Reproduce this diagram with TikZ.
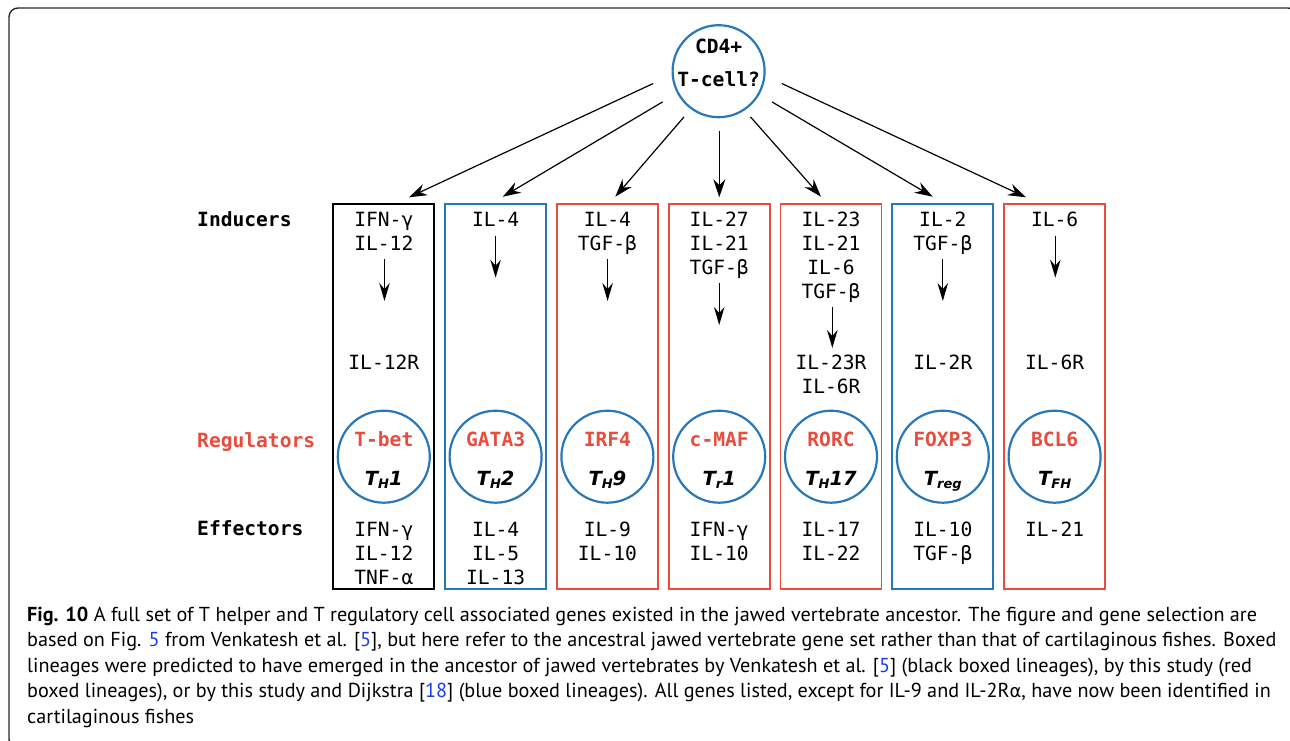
\documentclass[tikz,border=0pt]{standalone}
\usepackage{fontspec}
\setmainfont{PT Sans}
\newfontfamily\monof{DejaVu Sans Mono}
\newfontfamily\subf{DejaVu Sans}
\newfontfamily\capfont{PT Sans}
\usetikzlibrary{arrows.meta,calc}
\definecolor{cred}{RGB}{232,76,61}
\definecolor{cblue}{RGB}{40,120,185}
\definecolor{clink}{RGB}{30,60,230}
\definecolor{framecol}{RGB}{40,40,40}
\newcommand\lnk[1]{\textcolor{clink}{#1}}
\newcommand\tsub[1]{\raisebox{-3pt}{\fontsize{13}{13}\selectfont #1}}
\tikzset{
  linbox/.style={draw, line width=1.8pt, minimum width=101pt, minimum height=385pt, inner sep=0pt},
  circ/.style={circle, draw=cblue, line width=2.2pt, minimum size=92pt, inner sep=0pt},
  txt/.style={font=\monof\fontsize{19.6}{24}\selectfont, align=center, inner sep=0pt, anchor=north},
  lbl/.style={font=\monof\bfseries\fontsize{19.6}{24}\selectfont, inner sep=0pt, anchor=north west},
  regtxt/.style={font=\monof\bfseries\fontsize{19.6}{24}\selectfont, text=cred, inner sep=0pt, anchor=base},
  celltxt/.style={font=\subf\bfseries\itshape\fontsize{19.5}{24}\selectfont, inner sep=0pt, anchor=base},
  captxt/.style={font=\capfont\fontsize{20.2}{25}\selectfont, inner sep=0pt, anchor=base west},
  toparrow/.style={-{Stealth[length=18pt,width=12pt,inset=6pt]}, line width=1.2pt},
  inarrow/.style={-{Stealth[length=18pt,width=10.5pt,inset=6pt]}, line width=1.3pt},
}
\begin{document}
\begin{tikzpicture}[x=1pt,y=-1pt]
\useasboundingbox (0,0) rectangle (1290,740);
\clip (0,0) rectangle (1290,740);
\draw[framecol, line width=1.4pt, rounded corners=9pt] (9,8) rectangle (1297,748);

% top cell
\node[circ] (top) at (718.6,71.2) {};
\node[font=\monof\bfseries\fontsize{19.6}{24}\selectfont, inner sep=0pt, anchor=base] (cd4) at (718.6,53) {CD4+};
\node[font=\monof\bfseries\fontsize{19.6}{24}\selectfont, inner sep=0pt, anchor=base] (tcell) at (718.6,86) {T-cell?};

% row labels
\node[lbl] (lind) at (197,209.2) {\strut Inducers};
\node[lbl, text=cred] (lreg) at (197,430.2) {\strut Regulators};
\node[lbl] (leff) at (197,518.5) {\strut Effectors};

% boxes
\node[linbox, draw=black] (b1) at (383.8,396.5) {};
\node[linbox, draw=cblue] (b2) at (495.6,396.5) {};
\node[linbox, draw=cred]  (b3) at (607.4,396.5) {};
\node[linbox, draw=cred]  (b4) at (719.2,396.5) {};
\node[linbox, draw=cred]  (b5) at (831.0,396.5) {};
\node[linbox, draw=cblue] (b6) at (942.8,396.5) {};
\node[linbox, draw=cred]  (b7) at (1054.6,396.5) {};

% arrows from top cell
\coordinate (e1) at (409,197.3);
\coordinate (e2) at (502.8,196.7);
\coordinate (e3) at (615.3,196.7);
\coordinate (e4) at (719.3,197.3);
\coordinate (e5) at (821,196.7);
\coordinate (e6) at (932.7,196.7);
\coordinate (e7) at (1026,197.3);
\draw[toparrow] ($(top.center)+(-65.4,12.3)$) -- (e1);
\draw[toparrow] ($(top.center)+(-56,30.7)$) -- (e2);
\draw[toparrow] ($(top.center)+(-34.6,45.7)$) -- (e3);
\draw[toparrow] ($(top.center)+(0.7,59.7)$) -- (e4);
\draw[toparrow] ($(top.center)+(31.9,45.7)$) -- (e5);
\draw[toparrow] ($(top.center)+(53.4,30.7)$) -- (e6);
\draw[toparrow] ($(top.center)+(63.2,12.3)$) -- (e7);

% inducers
\node[txt] (i1) at (383.8,209.2) {\strut IFN-γ\\IL-12};
\node[txt] (i2) at (495.6,209.2) {\strut IL-4};
\node[txt] (i3) at (607.4,209.2) {\strut IL-4\\TGF-β};
\node[txt] (i4) at (719.2,209.2) {\strut IL-27\\IL-21\\TGF-β};
\node[txt] (i5) at (831.0,209.2) {\strut IL-23\\IL-21\\IL-6\\TGF-β};
\node[txt] (i6) at (942.8,209.2) {\strut IL-2\\TGF-β};
\node[txt] (i7) at (1054.6,209.2) {\strut IL-6};

% inner arrows
\coordinate (s1) at (384.5,259);   \coordinate (h1) at (384.5,301);
\coordinate (s2) at (495.6,235.7); \coordinate (h2) at (495.6,277.7);
\coordinate (s3) at (607.6,259);   \coordinate (h3) at (607.6,301);
\coordinate (s4) at (719.2,283);   \coordinate (h4) at (719.2,325);
\coordinate (s5) at (832.3,306.7); \coordinate (h5) at (832.3,348);
\coordinate (s6) at (942.8,259);   \coordinate (h6) at (942.8,301);
\coordinate (s7) at (1055.3,235.7); \coordinate (h7) at (1055.3,277.7);
\foreach \k in {1,...,7} { \draw[inarrow] (s\k) -- (h\k); }

% receptors
\node[txt] (r1) at (383.8,352.2) {\strut IL-12R};
\node[txt] (r5) at (831.0,352.2) {\strut IL-23R\\IL-6R};
\node[txt] (r6) at (942.8,352.2) {\strut IL-2R};
\node[txt] (r7) at (1054.6,352.2) {\strut IL-6R};

% regulators
\node[circ] (c1) at (383.8,456.7) {};
\node[circ] (c2) at (495.6,456.7) {};
\node[circ] (c3) at (607.4,456.7) {};
\node[circ] (c4) at (719.2,456.7) {};
\node[circ] (c5) at (831.0,456.7) {};
\node[circ] (c6) at (942.8,456.7) {};
\node[circ] (c7) at (1054.6,456.7) {};
\node[regtxt] (g1) at (383.8,446) {T-bet};
\node[regtxt] (g2) at (495.6,446) {GATA3};
\node[regtxt] (g3) at (607.4,446) {IRF4};
\node[regtxt] (g4) at (719.2,446) {c-MAF};
\node[regtxt] (g5) at (831.0,446) {RORC};
\node[regtxt] (g6) at (942.8,446) {FOXP3};
\node[regtxt] (g7) at (1054.6,446) {BCL6};
\node[celltxt] (t1) at (383.8,485) {T\tsub{H}1};
\node[celltxt] (t2) at (495.6,485) {T\tsub{H}2};
\node[celltxt] (t3) at (607.4,485) {T\tsub{H}9};
\node[celltxt] (t4) at (719.2,485) {T\tsub{r}1};
\node[celltxt] (t5) at (831.0,485) {T\tsub{H}17};
\node[celltxt] (t6) at (942.8,485) {T\tsub{reg}};
\node[celltxt] (t7) at (1054.6,485) {T\tsub{FH}};

% effectors
\node[txt] (f1) at (383.8,519.2) {\strut IFN-γ\\IL-12\\TNF-α};
\node[txt] (f2) at (495.6,519.2) {\strut IL-4\\IL-5\\IL-13};
\node[txt] (f3) at (607.4,519.2) {\strut IL-9\\IL-10};
\node[txt] (f4) at (719.2,519.2) {\strut IFN-γ\\IL-10};
\node[txt] (f5) at (831.0,519.2) {\strut IL-17\\IL-22};
\node[txt] (f6) at (942.8,519.2) {\strut IL-10\\TGF-β};
\node[txt] (f7) at (1054.6,519.2) {\strut IL-21};

% caption
\node[captxt] (cap1) at (27,621) {\textbf{Fig. 10} A full set of T helper and T regulatory cell associated genes existed in the jawed vertebrate ancestor. The figure and gene selection are};
\node[captxt] (cap2) at (27,646.5) {based on Fig. \lnk{5} from Venkatesh et al. [\lnk{5}], but here refer to the ancestral jawed vertebrate gene set rather than that of cartilaginous fishes. Boxed};
\node[captxt] (cap3) at (27,672) {lineages were predicted to have emerged in the ancestor of jawed vertebrates by Venkatesh et al. [\lnk{5}] (black boxed lineages), by this study (red};
\node[captxt] (cap4) at (27,697.5) {boxed lineages), or by this study and Dijkstra [\lnk{18}] (blue boxed lineages). All genes listed, except for IL-9 and IL-2R{\subf\fontsize{18}{25}\selectfont α}, have now been identified in};
\node[captxt] (cap5) at (27,723) {cartilaginous fishes};
\end{tikzpicture}
\end{document}
